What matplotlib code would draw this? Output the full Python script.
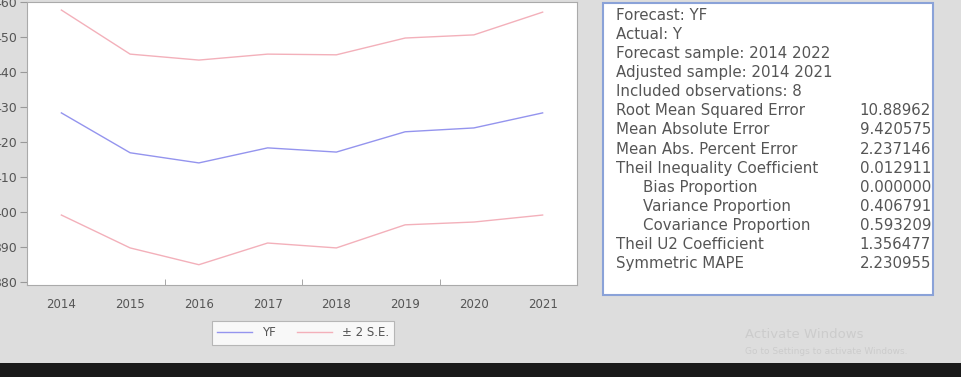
import matplotlib.pyplot as plt
from matplotlib.patches import Rectangle

plt.rcParams['font.family'] = ['DejaVu Sans']

years = [2014, 2015, 2016, 2017, 2018, 2019, 2020, 2021]
yf = [428.3, 416.9, 414.0, 418.3, 417.1, 422.9, 424.0, 428.3]
upper = [457.7, 445.1, 443.4, 445.1, 444.9, 449.7, 450.6, 457.1]
lower = [399.1, 389.7, 384.9, 391.1, 389.7, 396.3, 397.1, 399.1]
yticks = [380, 390, 400, 410, 420, 430, 440, 450, 460]

header = ["Forecast: YF", "Actual: Y", "Forecast sample: 2014 2022",
          "Adjusted sample: 2014 2021", "Included observations: 8"]
stat_names = ["Root Mean Squared Error", "Mean Absolute Error",
              "Mean Abs. Percent Error", "Theil Inequality Coefficient",
              "Bias Proportion", "Variance Proportion",
              "Covariance Proportion", "Theil U2 Coefficient",
              "Symmetric MAPE"]
indented = ["Bias Proportion", "Variance Proportion", "Covariance Proportion"]
stat_values = ["10.88962", "9.420575", "2.237146", "0.012911", "0.000000",
               "0.406791", "0.593209", "1.356477", "2.230955"]

fig = plt.figure(figsize=(9.62, 3.77), dpi=100, facecolor='#dddddd')
W, H = 962, 377
txtc = '#555555'

ax = fig.add_axes([27 / W, 1 - 285 / H, 550 / W, 283 / H])
ax.set_facecolor('white')
l1, = ax.plot(years, yf, color='#9494ee', lw=1.0)
ax.plot(years, upper, color='#f3b0ba', lw=1.0)
l2, = ax.plot(years, lower, color='#f3b0ba', lw=1.0)
ax.set_xlim(2013.5, 2021.5)
ax.set_ylim(379.1, 460)
ax.set_yticks(yticks)
ax.set_xticks(years)
ax.set_xticks([2015.5, 2017.5, 2019.5], minor=True)
ax.tick_params(axis='x', which='major', length=0, pad=9, labelsize=8.5, labelcolor=txtc)
ax.tick_params(axis='x', which='minor', length=4, direction='in', color='#999999')
ax.tick_params(axis='y', length=5, color='#999999', labelsize=9, labelcolor=txtc, pad=2)
for s in ax.spines.values():
    s.set_color('#aaaaaa')

leg = fig.legend([l1, l2], ['YF', '\u00b1 2 S.E.'], ncol=2,
                 loc='center', bbox_to_anchor=(303 / W, 1 - 333 / H),
                 fontsize=8.5, frameon=True, fancybox=False, handlelength=3.0,
                 columnspacing=1.8, borderpad=0.45, handletextpad=0.8)
leg.get_frame().set_edgecolor('#aaaaaa')
leg.get_frame().set_linewidth(0.8)
for t in leg.get_texts():
    t.set_color(txtc)

# statistics box
fig.patches.append(Rectangle((603 / W, 1 - 295 / H), 330 / W, 292 / H,
                             transform=fig.transFigure, facecolor='white',
                             edgecolor='#8aa2d8', lw=1.5))
rows = header + stat_names
for i, txt in enumerate(rows):
    y = 1 - (15 + i * 19.15) / H
    x = 643 if txt in indented else 616
    fig.text(x / W, y, txt, fontsize=10.8, color=txtc, va='center')
for i, v in enumerate(stat_values):
    y = 1 - (15 + (i + len(header)) * 19.15) / H
    fig.text(931 / W, y, v, fontsize=10.8, color=txtc, va='center', ha='right')

# watermark and taskbar
fig.text(745 / W, 1 - 335 / H, 'Activate Windows', fontsize=9.5, color='#cccccc', va='center')
fig.text(745 / W, 1 - 352 / H, 'Go to Settings to activate Windows.', fontsize=6.5,
         color='#cccccc', va='center')
fig.patches.append(Rectangle((0, 0), 1, 14 / H, transform=fig.transFigure,
                             facecolor='#1a1a1a', edgecolor='none'))

fig.savefig('out.png', dpi=100, facecolor=fig.get_facecolor())
